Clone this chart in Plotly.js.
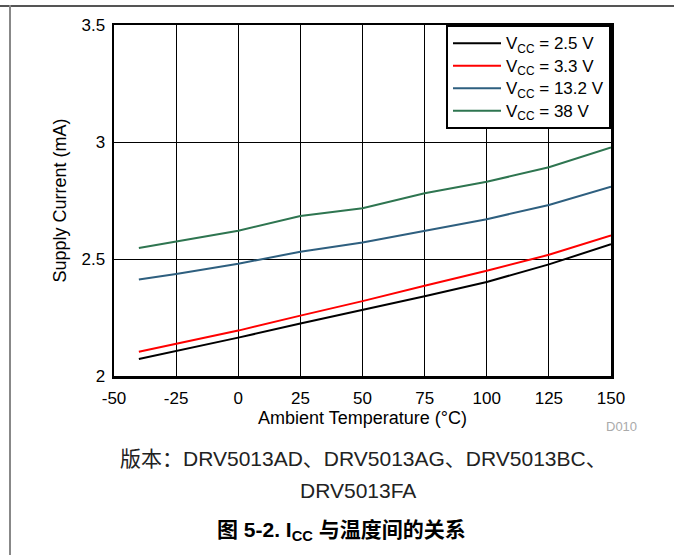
<!DOCTYPE html>
<html>
<head>
<meta charset="utf-8">
<script src="https://cdn.plot.ly/plotly-3.0.1.min.js"></script>
<style>
html,body{margin:0;padding:0;background:#fff;}
#wrap{position:relative;width:674px;height:555px;overflow:hidden;}
#chart{position:absolute;left:0;top:0;width:674px;height:555px;}
#hline{position:absolute;left:0;top:5px;width:674px;height:2px;background:#555;z-index:5;}
#vline{position:absolute;left:9px;top:5px;width:2px;height:550px;background:#888;z-index:5;}
</style>
</head>
<body>
<div id="wrap">
<div id="chart"></div>
<div id="hline"></div>
<div id="vline"></div>
</div>
<script>
const temps = [-40, -25, 0, 25, 50, 75, 100, 125, 150];
const seriesNames = ['V<sub>CC</sub> = 2.5 V', 'V<sub>CC</sub> = 3.3 V', 'V<sub>CC</sub> = 13.2 V', 'V<sub>CC</sub> = 38 V'];
const icc_2v5  = [2.073, 2.107, 2.164, 2.224, 2.281, 2.341, 2.402, 2.477, 2.563];
const icc_3v3  = [2.104, 2.138, 2.194, 2.258, 2.320, 2.386, 2.450, 2.518, 2.601];
const icc_13v2 = [2.412, 2.436, 2.480, 2.531, 2.571, 2.621, 2.670, 2.731, 2.809];
const icc_38v  = [2.547, 2.574, 2.621, 2.684, 2.717, 2.781, 2.830, 2.892, 2.977];
const colors = ['#000000', '#ff0000', '#2e5f7f', '#2e7550'];
const xTicks = [-50, -25, 0, 25, 50, 75, 100, 125, 150];
const yTicks = [2, 2.5, 3, 3.5];
const yTickLabels = ['2', '2.5', '3', '3.5'];

const FONT = 'Liberation Sans, Arial, Noto Sans CJK SC, sans-serif';
const allY = [icc_2v5, icc_3v3, icc_13v2, icc_38v];
const traces = allY.map((y, i) => ({
  x: temps, y: y, type: 'scatter', mode: 'lines',
  name: '<span style="font-size:17px">' + seriesNames[i] + '</span>',
  line: {color: colors[i], width: 2}
}));

const layout = {
  width: 674, height: 555,
  margin: {l: 114, r: 63, t: 25, b: 179},
  paper_bgcolor: '#ffffff', plot_bgcolor: '#ffffff',
  font: {family: FONT, color: '#000', size: 17},
  showlegend: true,
  legend: {
    x: 1, y: 1, xanchor: 'right', yanchor: 'top',
    bgcolor: '#ffffff', bordercolor: '#000', borderwidth: 2,
    font: {family: FONT, size: 15, color: '#000'},
    tracegroupgap: 0, itemwidth: 48
  },
  xaxis: {
    range: [-50, 150], tickvals: xTicks, ticktext: xTicks.map(String),
    showgrid: true, gridcolor: '#000', gridwidth: 1,
    showline: true, linecolor: '#000', linewidth: 2.5, mirror: true,
    ticks: '', zeroline: false, tickfont: {size: 17, family: FONT},
    ticklabelstandoff: 5,
    title: {text: 'Ambient Temperature (°C)', font: {size: 18, family: FONT}, standoff: 2}
  },
  yaxis: {
    range: [2, 3.5], tickvals: yTicks, ticktext: yTickLabels,
    showgrid: true, gridcolor: '#000', gridwidth: 1,
    showline: true, linecolor: '#000', linewidth: 2.5, mirror: true,
    ticks: '', zeroline: false, tickfont: {size: 17, family: FONT},
    ticklabelstandoff: 3,
    title: {text: 'Supply Current (mA)', font: {size: 18, family: FONT}, standoff: 10}
  },
  annotations: [
    {xref: 'paper', yref: 'paper', x: 1.022, y: -0.145, xanchor: 'center', yanchor: 'middle',
     text: 'D010', showarrow: false, font: {size: 13, color: '#aaaaaa', family: FONT}},
    {xref: 'paper', yref: 'paper', x: 0.5, y: 0, xanchor: 'center', yanchor: 'middle',
     yshift: -82, xshift: 1,
     text: '版本：DRV5013AD、DRV5013AG、DRV5013BC、', showarrow: false,
     font: {size: 21, color: '#222', family: FONT}},
    {xref: 'paper', yref: 'paper', x: 0.5, y: 0, xanchor: 'center', yanchor: 'middle',
     yshift: -114, xshift: -5,
     text: 'DRV5013FA', showarrow: false,
     font: {size: 21, color: '#222', family: FONT}},
    {xref: 'paper', yref: 'paper', x: 0.5, y: 0, xanchor: 'center', yanchor: 'middle',
     yshift: -155, xshift: -21,
     text: '<b>图 5-2. I<sub>CC</sub> 与温度间的关系</b>', showarrow: false,
     font: {size: 21, color: '#000', family: FONT}}
  ]
};

Plotly.newPlot('chart', traces, layout, {staticPlot: true, displayModeBar: false});
</script>
</body>
</html>
